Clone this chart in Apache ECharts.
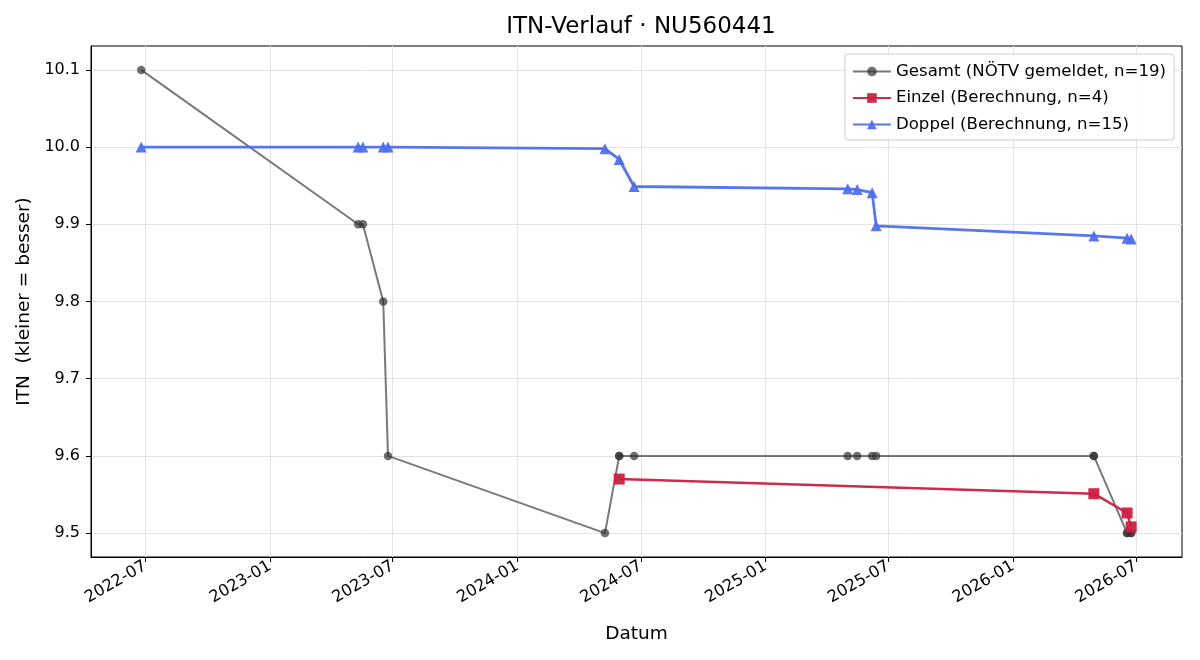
<!DOCTYPE html>
<html>
<head>
<meta charset="utf-8">
<script src="https://cdn.jsdelivr.net/npm/echarts@6/dist/echarts.min.js"></script>
<style>
  html, body { margin: 0; padding: 0; background: #fff; }
  #chart { width: 1200px; height: 660px; }
</style>
</head>
<body>
<div id="chart"></div>
<script>
// Gesamt (gemeldet)
var gesamtDates = ["2022-06-25", "2023-05-11", "2023-05-18", "2023-06-17", "2023-06-24",
  "2024-05-09", "2024-05-30", "2024-05-30", "2024-06-21", "2025-05-02", "2025-05-16",
  "2025-06-07", "2025-06-13", "2026-04-30", "2026-04-30", "2026-06-18", "2026-06-18",
  "2026-06-24", "2026-06-24"];
var gesamtValues = [10.1, 9.9, 9.9, 9.8, 9.6, 9.5, 9.6, 9.6, 9.6, 9.6, 9.6,
  9.6, 9.6, 9.6, 9.6, 9.5, 9.5, 9.5, 9.5];

// Einzel (Berechnung)
var einzelDates = ["2024-05-30", "2026-04-30", "2026-06-18", "2026-06-24"];
var einzelValues = [9.570, 9.551, 9.526, 9.508];

// Doppel (Berechnung)
var doppelDates = ["2022-06-25", "2023-05-11", "2023-05-18", "2023-06-17", "2023-06-24",
  "2024-05-09", "2024-05-30", "2024-06-21", "2025-05-02", "2025-05-16", "2025-06-07",
  "2025-06-13", "2026-04-30", "2026-06-18", "2026-06-24"];
var doppelValues = [10.0, 10.0, 10.0, 10.0, 10.0, 9.998, 9.984, 9.949, 9.946, 9.945,
  9.941, 9.898, 9.885, 9.882, 9.881];

var xTicks = ["2022-07-01", "2023-01-01", "2023-07-01", "2024-01-01", "2024-07-01",
  "2025-01-01", "2025-07-01", "2026-01-01", "2026-07-01"];
var yTicks = [9.5, 9.6, 9.7, 9.8, 9.9, 10.0, 10.1];

function ts(s) {
  var p = s.split("-");
  return Date.UTC(+p[0], +p[1] - 1, +p[2]);
}
function pairs(dates, vals) {
  return dates.map(function (d, i) { return [ts(d), vals[i]]; });
}

var chart = echarts.init(document.getElementById("chart"));
var font = "DejaVu Sans";

var option = {
  animation: false,
  textStyle: { fontFamily: font },
  title: {
    text: "ITN-Verlauf · NU560441",
    left: 636,
    textAlign: "center",
    top: 11,
    textStyle: { fontFamily: font, fontSize: 23, fontWeight: "normal", color: "#000" }
  },
  legend: {
    orient: "vertical",
    right: 26,
    top: 54,
    padding: [9, 8, 7, 7],
    itemGap: 9.5,
    itemWidth: 38,
    itemHeight: 12,
    backgroundColor: "rgba(255,255,255,0.85)",
    borderColor: "#ccc",
    borderWidth: 1,
    borderRadius: 3,
    textStyle: { fontFamily: font, fontSize: 16.6, color: "#000" },
    data: ["Gesamt (NÖTV gemeldet, n=19)", "Einzel (Berechnung, n=4)", "Doppel (Berechnung, n=15)"]
  },
  grid: {
    left: 91, right: 18, top: 46, bottom: 103,
    show: true, borderColor: "#000", borderWidth: 1
  },
  xAxis: {
    type: "value",
    min: ts("2022-04-12"),
    max: ts("2026-09-07"),
    name: "Datum",
    nameLocation: "middle",
    nameGap: 68,
    nameTextStyle: { fontFamily: font, fontSize: 18.5, color: "#000" },
    axisLine: { show: true, lineStyle: { color: "#000" } },
    axisTick: {
      show: true, length: 5, lineStyle: { color: "#000" },
      customValues: xTicks.map(ts)
    },
    axisLabel: {
      rotate: 30,
      margin: 8,
      fontFamily: font,
      fontSize: 16.3,
      color: "#000",
      customValues: xTicks.map(ts),
      formatter: function (v) {
        var d = new Date(v);
        var m = d.getUTCMonth() + 1;
        return d.getUTCFullYear() + "-" + (m < 10 ? "0" + m : m);
      }
    },
    splitLine: { show: true, lineStyle: { color: "#e3e3e3", width: 1 } }
  },
  yAxis: {
    type: "value",
    min: 9.469,
    max: 10.131,
    name: "ITN  (kleiner = besser)",
    nameLocation: "middle",
    nameGap: 54,
    nameTextStyle: { fontFamily: font, fontSize: 18.5, color: "#000" },
    axisLine: { show: true, lineStyle: { color: "#000" } },
    axisTick: {
      show: true, length: 5, lineStyle: { color: "#000" },
      customValues: yTicks
    },
    axisLabel: {
      fontFamily: font,
      fontSize: 16,
      color: "#000",
      margin: 11,
      customValues: yTicks,
      formatter: function (v) { return v.toFixed(1); }
    },
    splitLine: { show: true, lineStyle: { color: "#e3e3e3", width: 1 } }
  },
  series: [
    {
      name: "Gesamt (NÖTV gemeldet, n=19)",
      type: "line",
      data: pairs(gesamtDates, gesamtValues),
      symbol: "circle",
      symbolSize: 8.5,
      lineStyle: { color: "#3a3a3a", width: 2, opacity: 0.68 },
      itemStyle: { color: "rgba(50,50,50,0.7)" }
    },
    {
      name: "Einzel (Berechnung, n=4)",
      type: "line",
      data: pairs(einzelDates, einzelValues),
      symbol: "rect",
      symbolSize: 11,
      lineStyle: { color: "#cc1f40", width: 2.5, opacity: 0.95 },
      itemStyle: { color: "rgba(204,31,64,0.95)" }
    },
    {
      name: "Doppel (Berechnung, n=15)",
      type: "line",
      data: pairs(doppelDates, doppelValues),
      symbol: "triangle",
      symbolSize: 11,
      lineStyle: { color: "#4f6fef", width: 2.8, opacity: 0.95 },
      itemStyle: { color: "rgba(79,111,239,0.95)" }
    }
  ]
};
chart.setOption(option);
</script>
</body>
</html>
